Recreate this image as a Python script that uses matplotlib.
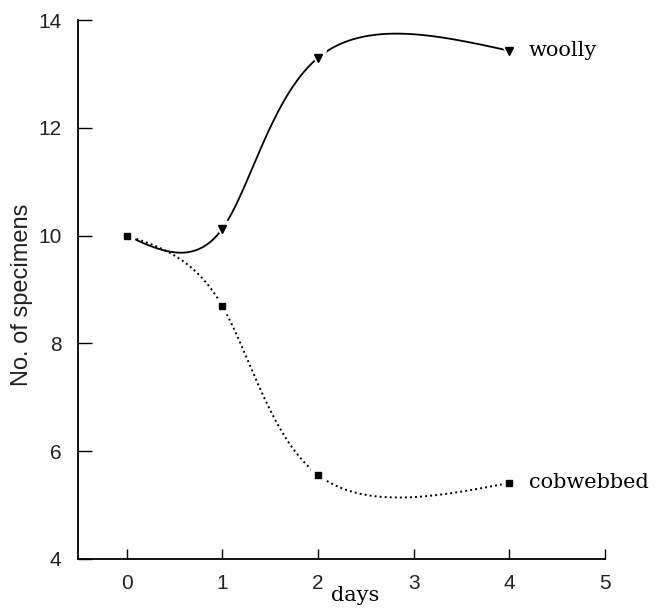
import matplotlib
matplotlib.use("Agg")
import matplotlib.pyplot as plt
import numpy as np

days = [0, 1, 2, 4]
woolly = [10.0, 10.13, 13.3, 13.43]
cobwebbed = [10.0, 8.69, 5.56, 5.41]
x_ticks = [0, 1, 2, 3, 4, 5]
y_ticks = [4, 6, 8, 10, 12, 14]


def natural_spline(t, v, tt):
    # natural cubic spline through (t, v), evaluated at tt
    t = np.asarray(t, float)
    v = np.asarray(v, float)
    n = len(t)
    h = np.diff(t)
    A = np.zeros((n, n))
    r = np.zeros(n)
    A[0, 0] = A[-1, -1] = 1
    for i in range(1, n - 1):
        A[i, i - 1] = h[i - 1]
        A[i, i] = 2 * (h[i - 1] + h[i])
        A[i, i + 1] = h[i]
        r[i] = 6 * ((v[i + 1] - v[i]) / h[i] - (v[i] - v[i - 1]) / h[i - 1])
    M = np.linalg.solve(A, r)
    k = np.clip(np.searchsorted(t, tt) - 1, 0, n - 2)
    a = t[k + 1] - tt
    b = tt - t[k]
    hk = h[k]
    return (M[k] * a ** 3 / (6 * hk) + M[k + 1] * b ** 3 / (6 * hk)
            + (v[k] / hk - M[k] * hk / 6) * a + (v[k + 1] / hk - M[k + 1] * hk / 6) * b)


def smooth(xs, ys):
    # parametric spline, points spaced evenly in the parameter
    t = np.arange(len(xs))
    tt = np.linspace(0, len(xs) - 1, 300)
    return natural_spline(t, xs, tt), natural_spline(t, ys, tt)


fig = plt.figure(figsize=(6.56, 6.08), dpi=100)
ax = fig.add_axes([0.119, 0.0806, 0.803, 0.8865])

sx, sy = smooth(days, cobwebbed)
ax.plot(sx, sy, color="black", lw=1.4, ls=(0, (1, 1.6)))
sx, sy = smooth(days, woolly)
ax.plot(sx, sy, color="black", lw=1.3)

# white halos leave a small gap between curve and marker
ax.plot(days, woolly, ls="none", marker="v", ms=11, color="white")
ax.plot(days, woolly, ls="none", marker="v", ms=6, color="black")
ax.plot(days, cobwebbed, ls="none", marker="s", ms=10, color="white")
ax.plot(days, cobwebbed, ls="none", marker="s", ms=5, color="black")

ax.annotate("woolly", (days[-1], woolly[-1]), xytext=(14, 0),
            textcoords="offset points", va="center", ha="left",
            family="DejaVu Serif", fontsize=15)
ax.annotate("cobwebbed", (days[-1], cobwebbed[-1]), xytext=(14, 0),
            textcoords="offset points", va="center", ha="left",
            family="DejaVu Serif", fontsize=15)

ax.set_xlim(-0.51, 5)
ax.set_ylim(4, 14)
ax.set_xticks(x_ticks)
ax.set_yticks(y_ticks)
ax.spines["top"].set_visible(False)
ax.spines["right"].set_visible(False)
ax.spines["left"].set_linewidth(1.3)
ax.spines["bottom"].set_linewidth(1.3)
ax.tick_params(direction="in", length=7, width=1.0, labelsize=15, pad=11)
ax.tick_params(axis="y", length=10, pad=12)
for lab in ax.get_xticklabels() + ax.get_yticklabels():
    lab.set_family("Liberation Sans")
    lab.set_color("#222222")

ax.set_ylabel("No. of specimens", family="Liberation Sans", fontsize=17, color="#222222")
ax.yaxis.set_label_coords(-0.085, 0.49)
ax.set_xlabel("days", family="DejaVu Serif", fontsize=15)
ax.xaxis.set_label_coords(0.527, -0.05)

fig.savefig("out.png", dpi=100)
